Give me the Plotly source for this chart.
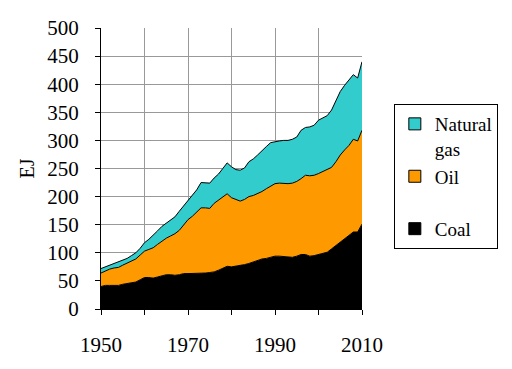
import plotly.graph_objects as go

years = list(range(1950, 2011))

coal = [40, 42, 42, 42, 42, 44, 45, 46, 48, 52,
        56, 56, 55, 57, 59, 61, 61, 60, 61, 63,
        63, 63, 63, 64, 64, 65, 66, 69, 72, 76,
        75, 76, 77, 79, 81, 84, 87, 89, 90, 92,
        94, 94, 93, 92, 92, 94, 97, 97, 94, 95,
        97, 98, 101, 107, 113, 119, 125, 131, 137, 137,
        151]

coal_oil_top = [64, 68, 71, 73, 74, 78, 82, 85, 89, 96,
                103, 106, 109, 115, 121, 126, 130, 134, 140, 149,
                159, 165, 172, 180, 180, 179, 188, 194, 200, 205,
                198, 195, 192, 195, 200, 202, 205, 209, 214, 219,
                223, 224, 223, 223, 224, 227, 232, 238, 237, 238,
                241, 245, 248, 252, 262, 274, 283, 291, 302, 299,
                318]

total_top = [72, 75, 78, 80, 83, 86, 90, 95, 100, 108,
             118, 124, 131, 139, 147, 153, 158, 164, 174, 184,
             193, 202, 212, 225, 224, 224, 233, 240, 250, 260,
             253, 248, 247, 251, 262, 267, 274, 282, 289, 296,
             298, 299, 300, 300, 302, 306, 318, 323, 324, 327,
             336, 340, 344, 354, 372, 387, 398, 408, 417, 411,
             440]

oil = [t - c for t, c in zip(coal_oil_top, coal)]
gas = [t - o for t, o in zip(total_top, coal_oil_top)]

series_names = ["Coal", "Oil", "Natural gas"]
series_values = [coal, oil, gas]
series_colors = ["#000000", "#FF9900", "#33CCCC"]

x_tickvals = list(range(1950, 2011, 10))
x_ticktext = ["1950", "", "1970", "", "1990", "", "2010"]
y_tickvals = list(range(0, 501, 50))

FONT = "Liberation Serif"

fig = go.Figure()
for name, vals, col in zip(series_names, series_values, series_colors):
    fig.add_trace(go.Scatter(
        x=years, y=vals, stackgroup="one", mode="lines", name=name,
        line=dict(color="#000000", width=1, shape="linear"),
        fillcolor=col, showlegend=False, hoverinfo="skip"))

# legend entries (square markers)
legend_names = ["Natural<br>gas", "Oil<br> ", "Coal"]
legend_colors = ["#33CCCC", "#FF9900", "#000000"]
for name, col in zip(legend_names, legend_colors):
    fig.add_trace(go.Scatter(
        x=[None], y=[None], mode="markers", name=name,
        marker=dict(symbol="square", size=12, color=col,
                    line=dict(color="#000000", width=1))))

# the page body adds an 8px offset, so margins are reduced by 8
fig.update_layout(
    width=512, height=369,
    margin=dict(l=93, r=158, t=20, b=68),
    paper_bgcolor="white", plot_bgcolor="white",
    font=dict(family=FONT, size=20, color="black"),
    legend=dict(
        x=1.122, y=0.7295, xanchor="left", yanchor="top",
        bordercolor="black", borderwidth=1, traceorder="normal",
        font=dict(family=FONT, size=19, color="black"),
        itemwidth=30, valign="top", tracegroupgap=0,
        bgcolor="white"),
    xaxis=dict(
        range=[1950, 2010], tickmode="array", tickvals=x_tickvals,
        ticktext=x_ticktext, showgrid=True, gridcolor="#999999", gridwidth=1,
        ticks="outside", ticklen=5, tickcolor="black", automargin=False,
        showline=True, linecolor="black", linewidth=1, zeroline=False,
        ticklabelstandoff=12,
        tickfont=dict(family=FONT, size=21)),
    yaxis=dict(
        range=[0, 500], tickmode="array", tickvals=y_tickvals,
        showgrid=True, gridcolor="#999999", gridwidth=1, automargin=False,
        ticks="outside", ticklen=5, tickcolor="black",
        showline=True, linecolor="black", linewidth=1, zeroline=False,
        ticklabelstandoff=12,
        title=dict(text="EJ", font=dict(family=FONT, size=20), standoff=7),
        tickfont=dict(family=FONT, size=21)),
)

fig.write_html("out.html")
